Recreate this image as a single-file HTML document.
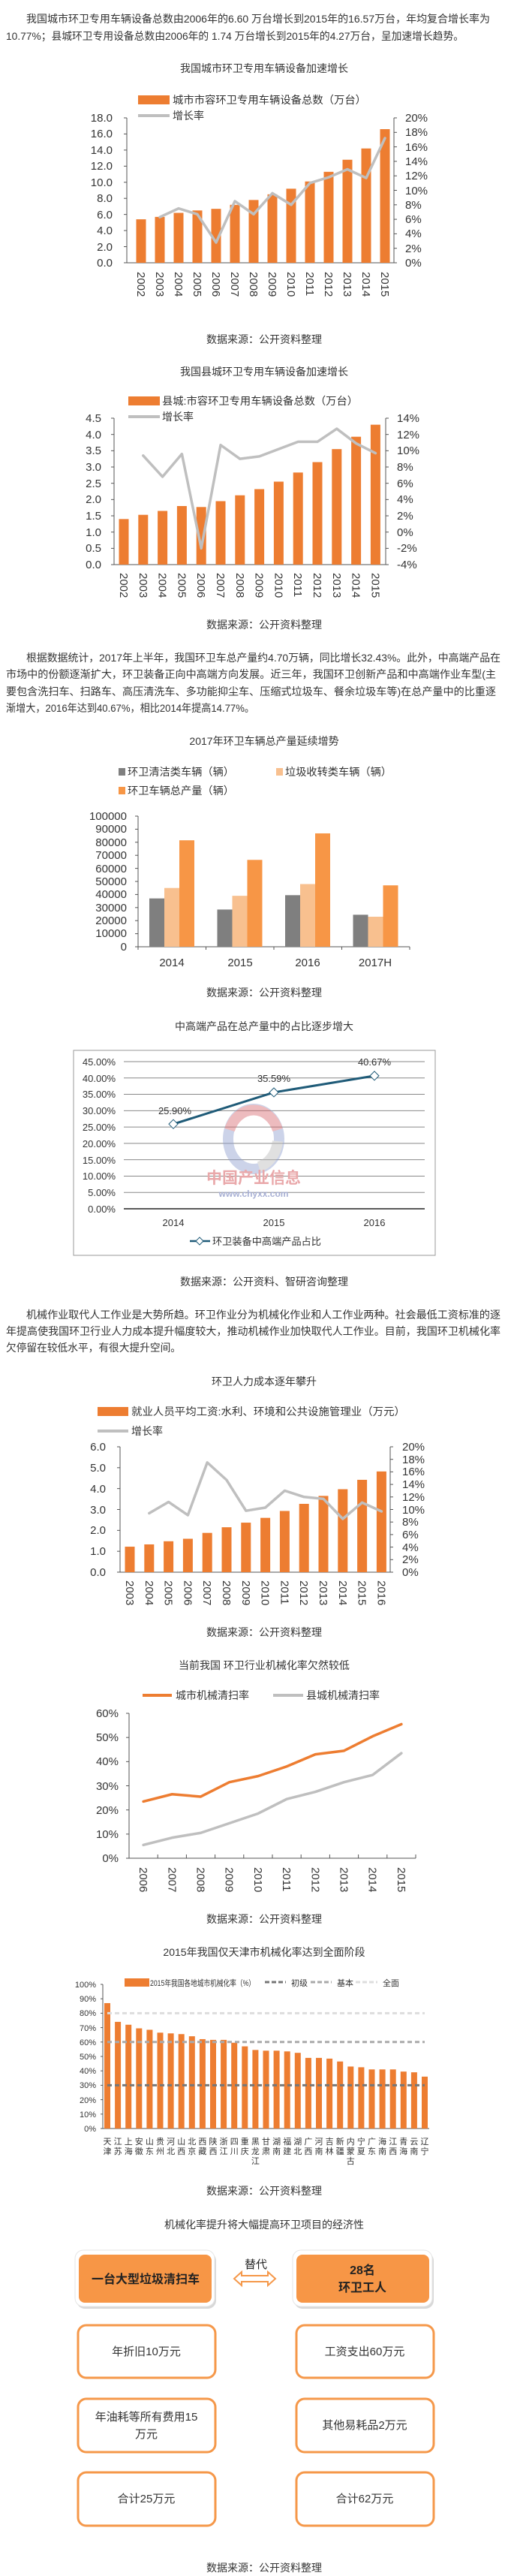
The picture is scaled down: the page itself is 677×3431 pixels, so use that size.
<!DOCTYPE html>
<html><head><meta charset="utf-8"><style>
html,body{margin:0;padding:0;background:#fff}
svg{display:block}
text{font-family:"Liberation Sans","Noto Sans CJK SC",sans-serif;fill:#333}
.p{font-size:14px}
.t{font-size:14px;text-anchor:middle}
.n{font-size:15px;fill:#222}
.e{text-anchor:end}
.m{text-anchor:middle}
</style></head><body>
<svg id="s" width="677" height="3431" viewBox="0 0 677 3431" xmlns="http://www.w3.org/2000/svg">
<!-- paragraph 1 -->
<text class="p" x="35" y="30" textLength="618" lengthAdjust="spacingAndGlyphs">我国城市环卫专用车辆设备总数由2006年的6.60 万台增长到2015年的16.57万台，年均复合增长率为</text>
<text class="p" x="8" y="53" textLength="610" lengthAdjust="spacingAndGlyphs">10.77%；县城环卫专用设备总数由2006年的 1.74 万台增长到2015年的4.27万台，呈加速增长趋势。</text>
<text class="t" x="352" y="96">我国城市环卫专用车辆设备加速增长</text>
<!-- chart1 legend -->
<rect x="184" y="127" width="42" height="12" fill="#ed7d31"/>
<text x="230" y="138" font-size="14" textLength="258" lengthAdjust="spacingAndGlyphs">城市市容环卫专用车辆设备总数（万台）</text>
<line x1="184" y1="154" x2="226" y2="154" stroke="#bfbfbf" stroke-width="4"/>
<text x="230" y="159" font-size="14">增长率</text>
<g class="n e">
<text x="150" y="162">18.0</text><text x="150" y="183">16.0</text><text x="150" y="205">14.0</text><text x="150" y="226">12.0</text><text x="150" y="248">10.0</text><text x="150" y="269">8.0</text><text x="150" y="291">6.0</text><text x="150" y="312">4.0</text><text x="150" y="334">2.0</text><text x="150" y="355">0.0</text>
</g>
<g class="n">
<text x="540" y="162">20%</text><text x="540" y="181">18%</text><text x="540" y="201">16%</text><text x="540" y="220">14%</text><text x="540" y="239">12%</text><text x="540" y="259">10%</text><text x="540" y="278">8%</text><text x="540" y="297">6%</text><text x="540" y="316">4%</text><text x="540" y="336">2%</text><text x="540" y="355">0%</text>
</g>
<g class="n" id="x1">
<text transform="translate(188,362) rotate(90)" dy="5">2002</text>
<text transform="translate(213,362) rotate(90)" dy="5">2003</text>
<text transform="translate(238,362) rotate(90)" dy="5">2004</text>
<text transform="translate(263,362) rotate(90)" dy="5">2005</text>
<text transform="translate(288,362) rotate(90)" dy="5">2006</text>
<text transform="translate(313,362) rotate(90)" dy="5">2007</text>
<text transform="translate(338,362) rotate(90)" dy="5">2008</text>
<text transform="translate(363,362) rotate(90)" dy="5">2009</text>
<text transform="translate(388,362) rotate(90)" dy="5">2010</text>
<text transform="translate(413,362) rotate(90)" dy="5">2011</text>
<text transform="translate(438,362) rotate(90)" dy="5">2012</text>
<text transform="translate(463,362) rotate(90)" dy="5">2013</text>
<text transform="translate(488,362) rotate(90)" dy="5">2014</text>
<text transform="translate(513,362) rotate(90)" dy="5">2015</text>
</g>
<text class="t" x="352" y="457">数据来源：公开资料整理</text>
<text class="t" x="352" y="500">我国县城环卫专用车辆设备加速增长</text>
<!-- chart2 -->
<rect x="171" y="528" width="42" height="12" fill="#ed7d31"/>
<text x="216" y="539" font-size="14" textLength="261" lengthAdjust="spacingAndGlyphs">县城:市容环卫专用车辆设备总数（万台）</text>
<line x1="171" y1="555" x2="213" y2="555" stroke="#bfbfbf" stroke-width="4"/>
<text x="216" y="560" font-size="14">增长率</text>
<g class="n e">
<text x="135" y="562">4.5</text><text x="135" y="584">4.0</text><text x="135" y="605">3.5</text><text x="135" y="627">3.0</text><text x="135" y="649">2.5</text><text x="135" y="670">2.0</text><text x="135" y="692">1.5</text><text x="135" y="714">1.0</text><text x="135" y="735">0.5</text><text x="135" y="757">0.0</text>
</g>
<g class="n">
<text x="529" y="562">14%</text><text x="529" y="584">12%</text><text x="529" y="605">10%</text><text x="529" y="627">8%</text><text x="529" y="649">6%</text><text x="529" y="670">4%</text><text x="529" y="692">2%</text><text x="529" y="714">0%</text><text x="529" y="735">-2%</text><text x="529" y="757">-4%</text>
</g>
<g class="n">
<text transform="translate(165,763) rotate(90)" dy="5">2002</text>
<text transform="translate(190.8,763) rotate(90)" dy="5">2003</text>
<text transform="translate(216.6,763) rotate(90)" dy="5">2004</text>
<text transform="translate(242.4,763) rotate(90)" dy="5">2005</text>
<text transform="translate(268.2,763) rotate(90)" dy="5">2006</text>
<text transform="translate(294,763) rotate(90)" dy="5">2007</text>
<text transform="translate(319.8,763) rotate(90)" dy="5">2008</text>
<text transform="translate(345.6,763) rotate(90)" dy="5">2009</text>
<text transform="translate(371.4,763) rotate(90)" dy="5">2010</text>
<text transform="translate(397.2,763) rotate(90)" dy="5">2011</text>
<text transform="translate(423,763) rotate(90)" dy="5">2012</text>
<text transform="translate(448.8,763) rotate(90)" dy="5">2013</text>
<text transform="translate(474.6,763) rotate(90)" dy="5">2014</text>
<text transform="translate(500.4,763) rotate(90)" dy="5">2015</text>
</g>
<text class="t" x="352" y="837">数据来源：公开资料整理</text>
<!-- paragraph 2 -->
<text class="p" x="35" y="881" textLength="632" lengthAdjust="spacingAndGlyphs">根据数据统计，2017年上半年，我国环卫车总产量约4.70万辆，同比增长32.43%。此外，中高端产品在</text>
<text class="p" x="8" y="903" textLength="653" lengthAdjust="spacingAndGlyphs">市场中的份额逐渐扩大，环卫装备正向中高端方向发展。近三年，我国环卫创新产品和中高端作业车型(主</text>
<text class="p" x="8" y="926" textLength="653" lengthAdjust="spacingAndGlyphs">要包含洗扫车、扫路车、高压清洗车、多功能抑尘车、压缩式垃圾车、餐余垃圾车等)在总产量中的比重逐</text>
<text class="p" x="8" y="948" textLength="331" lengthAdjust="spacingAndGlyphs">渐增大，2016年达到40.67%，相比2014年提高14.77%。</text>
<text class="t" x="352" y="992">2017年环卫车辆总产量延续增势</text>
<!-- chart3 legend -->
<rect x="158" y="1023" width="9" height="10" fill="#7f7f7f"/>
<text x="170" y="1033" font-size="14" textLength="142" lengthAdjust="spacingAndGlyphs">环卫清洁类车辆（辆）</text>
<rect x="368" y="1023" width="9" height="10" fill="#f8c08f"/>
<text x="380" y="1033" font-size="14" textLength="142" lengthAdjust="spacingAndGlyphs">垃圾收转类车辆（辆）</text>
<rect x="158" y="1048" width="9" height="10" fill="#f79646"/>
<text x="170" y="1058" font-size="14" textLength="142" lengthAdjust="spacingAndGlyphs">环卫车辆总产量（辆）</text>
<g class="n e">
<text x="169" y="1092">100000</text><text x="169" y="1109">90000</text><text x="169" y="1127">80000</text><text x="169" y="1144">70000</text><text x="169" y="1162">60000</text><text x="169" y="1179">50000</text><text x="169" y="1196">40000</text><text x="169" y="1214">30000</text><text x="169" y="1231">20000</text><text x="169" y="1248">10000</text><text x="169" y="1266">0</text>
</g>
<g class="n m">
<text x="229" y="1287">2014</text><text x="320" y="1287">2015</text><text x="410" y="1287">2016</text><text x="500" y="1287">2017H</text>
</g>
<text class="t" x="352" y="1327">数据来源：公开资料整理</text>
<text class="t" x="352" y="1372">中高端产品在总产量中的占比逐步增大</text>
<!-- chart4 -->
<rect x="98" y="1399" width="482" height="273" fill="none" stroke="#999" stroke-width="1"/>
<g opacity="0.45">
<ellipse cx="338" cy="1517" rx="34" ry="40" fill="none" stroke="#8fa0d0" stroke-width="14"/>
<path d="M306,1505 A34,40 0 0 1 370,1505" fill="none" stroke="#d86a70" stroke-width="14"/>
<path d="M345,1554 A34,40 0 0 0 370,1520" fill="none" stroke="#bbb" stroke-width="14"/>
</g>
<text x="338" y="1576" font-size="21" font-weight="bold" text-anchor="middle" style="fill:#e9a8aa">中国产业信息</text>
<text x="338" y="1594" font-size="12" font-weight="bold" text-anchor="middle" style="fill:#a8b0d4">www.chyxx.com</text>
<g font-size="13" class="e">
<text x="154" y="1419">45.00%</text><text x="154" y="1441">40.00%</text><text x="154" y="1462">35.00%</text><text x="154" y="1484">30.00%</text><text x="154" y="1506">25.00%</text><text x="154" y="1528">20.00%</text><text x="154" y="1550">15.00%</text><text x="154" y="1571">10.00%</text><text x="154" y="1593">5.00%</text><text x="154" y="1615">0.00%</text>
</g>
<g font-size="13" class="m">
<text x="233" y="1484">25.90%</text><text x="365" y="1441">35.59%</text><text x="499" y="1419">40.67%</text>
<text x="231" y="1633">2014</text><text x="365" y="1633">2015</text><text x="499" y="1633">2016</text>
</g>
<line x1="253" y1="1653" x2="280" y2="1653" stroke="#1f5b78" stroke-width="2.5"/>
<path d="M266,1648 L271,1653 L266,1658 L261,1653Z" fill="#fff" stroke="#1f5b78"/>
<text x="283" y="1658" font-size="13" textLength="145" lengthAdjust="spacingAndGlyphs">环卫装备中高端产品占比</text>
<text class="t" x="352" y="1712">数据来源：公开资料、智研咨询整理</text>
<!-- paragraph 3 -->
<text class="p" x="35" y="1756" textLength="632" lengthAdjust="spacingAndGlyphs">机械作业取代人工作业是大势所趋。环卫作业分为机械化作业和人工作业两种。社会最低工资标准的逐</text>
<text class="p" x="8" y="1778" textLength="659" lengthAdjust="spacingAndGlyphs">年提高使我国环卫行业人力成本提升幅度较大，推动机械作业加快取代人工作业。目前，我国环卫机械化率</text>
<text class="p" x="8" y="1800" textLength="233" lengthAdjust="spacingAndGlyphs">欠停留在较低水平，有很大提升空间。</text>
<text class="t" x="352" y="1845">环卫人力成本逐年攀升</text>
<!-- chart5 -->
<rect x="130" y="1874" width="41" height="12" fill="#ed7d31"/>
<text x="175" y="1885" font-size="14" textLength="365" lengthAdjust="spacingAndGlyphs">就业人员平均工资:水利、环境和公共设施管理业（万元）</text>
<line x1="130" y1="1906" x2="171" y2="1906" stroke="#bfbfbf" stroke-width="4"/>
<text x="175" y="1911" font-size="14">增长率</text>
<g class="n e">
<text x="141" y="1932">6.0</text><text x="141" y="1960">5.0</text><text x="141" y="1988">4.0</text><text x="141" y="2016">3.0</text><text x="141" y="2043">2.0</text><text x="141" y="2071">1.0</text><text x="141" y="2099">0.0</text>
</g>
<g class="n">
<text x="536" y="1932">20%</text><text x="536" y="1949">18%</text><text x="536" y="1965">16%</text><text x="536" y="1982">14%</text><text x="536" y="1999">12%</text><text x="536" y="2016">10%</text><text x="536" y="2032">8%</text><text x="536" y="2049">6%</text><text x="536" y="2066">4%</text><text x="536" y="2082">2%</text><text x="536" y="2099">0%</text>
</g>
<g class="n">
<text transform="translate(173,2105) rotate(90)" dy="5">2003</text>
<text transform="translate(198.8,2105) rotate(90)" dy="5">2004</text>
<text transform="translate(224.6,2105) rotate(90)" dy="5">2005</text>
<text transform="translate(250.4,2105) rotate(90)" dy="5">2006</text>
<text transform="translate(276.2,2105) rotate(90)" dy="5">2007</text>
<text transform="translate(302,2105) rotate(90)" dy="5">2008</text>
<text transform="translate(327.8,2105) rotate(90)" dy="5">2009</text>
<text transform="translate(353.6,2105) rotate(90)" dy="5">2010</text>
<text transform="translate(379.4,2105) rotate(90)" dy="5">2011</text>
<text transform="translate(405.2,2105) rotate(90)" dy="5">2012</text>
<text transform="translate(431,2105) rotate(90)" dy="5">2013</text>
<text transform="translate(456.8,2105) rotate(90)" dy="5">2014</text>
<text transform="translate(482.6,2105) rotate(90)" dy="5">2015</text>
<text transform="translate(508.4,2105) rotate(90)" dy="5">2016</text>
</g>
<text class="t" x="352" y="2179">数据来源：公开资料整理</text>
<text class="t" x="352" y="2223">当前我国 环卫行业机械化率欠然较低</text>
<!-- chart6 -->
<line x1="190" y1="2258" x2="229" y2="2258" stroke="#ed7d31" stroke-width="4"/>
<text x="234" y="2263" font-size="14">城市机械清扫率</text>
<line x1="364" y1="2258" x2="404" y2="2258" stroke="#bfbfbf" stroke-width="4"/>
<text x="408" y="2263" font-size="14">县城机械清扫率</text>
<g class="n e">
<text x="158" y="2287">60%</text><text x="158" y="2319">50%</text><text x="158" y="2351">40%</text><text x="158" y="2384">30%</text><text x="158" y="2416">20%</text><text x="158" y="2448">10%</text><text x="158" y="2480">0%</text>
</g>
<g class="n">
<text transform="translate(191.1,2487) rotate(90)" dy="5">2006</text>
<text transform="translate(229.3,2487) rotate(90)" dy="5">2007</text>
<text transform="translate(267.5,2487) rotate(90)" dy="5">2008</text>
<text transform="translate(305.7,2487) rotate(90)" dy="5">2009</text>
<text transform="translate(343.9,2487) rotate(90)" dy="5">2010</text>
<text transform="translate(382.1,2487) rotate(90)" dy="5">2011</text>
<text transform="translate(420.3,2487) rotate(90)" dy="5">2012</text>
<text transform="translate(458.5,2487) rotate(90)" dy="5">2013</text>
<text transform="translate(496.7,2487) rotate(90)" dy="5">2014</text>
<text transform="translate(534.9,2487) rotate(90)" dy="5">2015</text>
</g>
<text class="t" x="352" y="2561">数据来源：公开资料整理</text>
<text class="t" x="352" y="2605">2015年我国仅天津市机械化率达到全面阶段</text>
<!-- chart7 legend -->
<rect x="166" y="2635" width="33" height="11" fill="#ed7d31"/>
<text x="200" y="2645" font-size="11" textLength="140" lengthAdjust="spacingAndGlyphs">2015年我国各地城市机械化率（%）</text>
<line x1="353" y1="2640" x2="381" y2="2640" stroke="#777" stroke-width="3" stroke-dasharray="6,3"/>
<text x="388" y="2645" font-size="11">初级</text>
<line x1="414" y1="2640" x2="442" y2="2640" stroke="#aaa" stroke-width="3" stroke-dasharray="6,3"/>
<text x="449" y="2645" font-size="11">基本</text>
<line x1="474" y1="2640" x2="503" y2="2640" stroke="#ddd" stroke-width="3" stroke-dasharray="6,3"/>
<text x="510" y="2645" font-size="11">全面</text>
<g font-size="11" class="e">
<text x="128" y="2647">100%</text><text x="128" y="2666">90%</text><text x="128" y="2685">80%</text><text x="128" y="2705">70%</text><text x="128" y="2724">60%</text><text x="128" y="2743">50%</text><text x="128" y="2762">40%</text><text x="128" y="2781">30%</text><text x="128" y="2801">20%</text><text x="128" y="2820">10%</text><text x="128" y="2839">0%</text>
</g>
<g font-size="11" class="m" id="prov"></g>
<text class="t" x="352" y="2923">数据来源：公开资料整理</text>
<text class="t" x="352" y="2968">机械化率提升将大幅提高环卫项目的经济性</text>
<!-- chart8 -->
<rect x="102" y="3000" width="186" height="75" rx="11" fill="#d8d8d8"/>
<rect x="100" y="2997" width="186" height="75" rx="11" fill="#fff" stroke="#e6e6e6"/>
<rect x="105" y="3003" width="177" height="64" rx="8" fill="#f79646"/>
<rect x="392" y="3000" width="186" height="75" rx="11" fill="#d8d8d8"/>
<rect x="390" y="2997" width="186" height="75" rx="11" fill="#fff" stroke="#e6e6e6"/>
<rect x="395" y="3003" width="177" height="64" rx="8" fill="#f79646"/>
<text x="194" y="3041" font-size="16" font-weight="bold" text-anchor="middle" style="fill:#222">一台大型垃圾清扫车</text>
<text x="483" y="3029" font-size="16" font-weight="bold" text-anchor="middle" style="fill:#222">28名</text>
<text x="483" y="3052" font-size="16" font-weight="bold" text-anchor="middle" style="fill:#222">环卫工人</text>
<text x="341" y="3021" font-size="15" text-anchor="middle" style="fill:#222">替代</text>
<polygon points="312,3035 322,3026 322,3031 357,3031 357,3026 367,3035 357,3044 357,3039 322,3039 322,3044" fill="#fff" stroke="#f5984a" stroke-width="2"/>
<g fill="#fff" stroke="#f5984a" stroke-width="3">
<rect x="104" y="3097" width="183" height="70" rx="11"/><rect x="395" y="3097" width="183" height="70" rx="11"/>
<rect x="104" y="3195" width="183" height="71" rx="11"/><rect x="395" y="3195" width="183" height="71" rx="11"/>
<rect x="104" y="3293" width="183" height="71" rx="11"/><rect x="395" y="3293" width="183" height="71" rx="11"/>
</g>
<g font-size="15" text-anchor="middle">
<text x="195" y="3137">年折旧10万元</text>
<text x="486" y="3137">工资支出60万元</text>
<text x="195" y="3224">年油耗等所有费用15</text>
<text x="195" y="3247">万元</text>
<text x="486" y="3235">其他易耗品2万元</text>
<text x="195" y="3333">合计25万元</text>
<text x="486" y="3333">合计62万元</text>
</g>
<text class="t" x="352" y="3425">数据来源：公开资料整理</text>
</svg>
<script>
(function(){
var S=document.getElementById('s'),NS='http://www.w3.org/2000/svg';
function el(t,a,p){var e=document.createElementNS(NS,t);for(var k in a)e.setAttribute(k,a[k]);(p||S).insertBefore(e,(p||S).firstChild);return e}
function L(x1,y1,x2,y2,c,w,d){var a={x1:x1,y1:y1,x2:x2,y2:y2,stroke:c||'#555','stroke-width':w||1};if(d)a['stroke-dasharray']=d;el('line',a)}
function bars(c0,dx,w,v,y0,k,f){v.forEach(function(x,i){el('rect',{x:c0+dx*i-w/2,y:y0-x*k,width:w,height:x*k,fill:f})})}
function pl(pts,c,w){el('polyline',{points:pts.map(function(p){return p.join(',')}).join(' '),fill:'none',stroke:c,'stroke-width':w,'stroke-linejoin':'round','stroke-linecap':'round'})}
function grow(c0,dx,g,f){var p=[];g.forEach(function(v,i){if(v!==null)p.push([c0+dx*i,f(v)])});return p}
// chart1
var b1=[5.4,5.7,6.2,6.5,6.7,7.2,7.8,8.5,9.2,10.1,11.3,12.8,14.2,16.6];
var g1=[null,6.3,7.5,6.7,2.8,8.5,6.7,9.6,8,11,11.8,12.9,11.7,17.2];
pl(grow(188,25,g1,function(v){return 350-v*193/20}),'#bfbfbf',3.5);
bars(188,25,13,b1,350,193/18,'#ed7d31');
L(169,157,169,350);L(169,350,525,350);L(525,157,525,350);
for(var i=0;i<10;i++)L(165,157+i*21.44,169,157+i*21.44);
for(i=0;i<11;i++)L(525,157+i*19.3,529,157+i*19.3);
// chart2
var b2=[1.4,1.53,1.65,1.8,1.77,1.95,2.13,2.32,2.55,2.83,3.15,3.55,3.93,4.3];
var g2=[null,9.4,6.8,9.6,-2,10.7,9,9.3,10.2,11.1,11.1,12.7,10.9,9.7];
pl(grow(165,25.8,g2,function(v){return 752-(v+4)*195/18}),'#bfbfbf',3.5);
bars(165,25.8,13,b2,752,195/4.5,'#ed7d31');
L(152,557,152,752);L(152,752,514,752);L(514,557,514,752);
for(i=0;i<10;i++){L(148,557+i*21.67,152,557+i*21.67);L(514,557+i*21.67,518,557+i*21.67);}
// chart3
var c3=[[37000,45000,81500],[28500,39000,66500],[39500,48000,86800],[24500,23000,47000]],cl=['#7f7f7f','#f8c08f','#f79646'];
c3.forEach(function(g,j){g.forEach(function(v,k){var h=v*17.4/10000;el('rect',{x:184+90.5*j+15+20*k,y:1261-h,width:20,height:h,fill:cl[k]})})});
L(184,1087,184,1261);L(184,1261,546,1261);
for(i=0;i<11;i++)L(180,1087+i*17.4,184,1087+i*17.4);
for(i=0;i<5;i++)L(184+90.5*i,1261,184+90.5*i,1265);
// chart4
var pts=[[231,1610-25.9*4.356],[365,1610-35.59*4.356],[499,1610-40.67*4.356]];
var dg=document.createElementNS(NS,'g');S.appendChild(dg);
function d(t,a){var e=document.createElementNS(NS,t);for(var k in a)e.setAttribute(k,a[k]);dg.appendChild(e)}
d('polyline',{points:pts.map(function(p){return p.join(',')}).join(' '),fill:'none',stroke:'#1f5b78','stroke-width':3});
pts.forEach(function(p){d('path',{d:'M'+p[0]+','+(p[1]-6)+' l6,6 l-6,6 l-6,-6Z',fill:'#fff',stroke:'#1f5b78'})});
for(i=0;i<10;i++)L(165,1414+i*21.78,566,1414+i*21.78,i==9?'#222':'#888',i==9?1.5:1);
// chart5
var b5=[1.22,1.33,1.48,1.6,1.88,2.15,2.37,2.6,2.93,3.27,3.65,3.97,4.42,4.82];
var g5=[null,9.4,11.2,9.1,17.5,14.7,9.8,10.3,13,12,11.7,8.5,11.1,9.7];
pl(grow(173,25.8,g5,function(v){return 2094-v*167/20}),'#bfbfbf',3.5);
bars(173,25.8,13,b5,2094,167/6,'#ed7d31');
L(160,1927,160,2094);L(160,2094,520,2094);L(520,1927,520,2094);
for(i=0;i<7;i++)L(156,1927+i*27.83,160,1927+i*27.83);
for(i=0;i<11;i++)L(520,1927+i*16.7,524,1927+i*16.7);
// chart6
var o6=[23.5,26.5,25.5,31.5,34,38,43,44.5,50.5,55.5],g6=[5.5,8.5,10.5,14.5,18.5,24.5,27.5,31.5,34.5,43.5];
pl(grow(191.1,38.2,g6,function(v){return 2475-v*3.217}),'#bfbfbf',3.5);
pl(grow(191.1,38.2,o6,function(v){return 2475-v*3.217}),'#ed7d31',3.5);
L(172,2282,172,2475);L(172,2475,554,2475);
for(i=0;i<7;i++)L(168,2282+i*32.17,172,2282+i*32.17);
for(i=0;i<=10;i++)L(172+38.2*i,2475,172+38.2*i,2470);
// chart7
var v7=[87,74,72,69.5,68.5,66.5,66,65.5,64,62,61.5,61.5,59.5,57,54.5,54,54,53.5,52.5,49,49,48.5,46.5,43,42.5,41,41,41,39.5,39,36];
L(143,2835-30*1.92,566,2835-30*1.92,'#777',3,'6,4');
L(143,2835-60*1.92,566,2835-60*1.92,'#aaa',3,'6,4');
L(143,2835-80*1.92,566,2835-80*1.92,'#ddd',3,'6,4');
bars(143,14.1,8,v7,2835,1.92,'#ed7d31');
L(137,2643,137,2835);L(137,2835,572,2835);
for(i=0;i<11;i++)L(134,2643+i*19.2,137,2643+i*19.2);
})();
</script>
<svg width="0" height="0" style="position:absolute"></svg>
<div style="display:none"></div>
<svg style="position:absolute;left:0;top:0" width="677" height="3431">
<g font-size="11" text-anchor="middle" style="font-family:'Liberation Sans','Noto Sans CJK SC',sans-serif;fill:#444">
<text x="143" y="2856" fill="#444">天</text><text x="143" y="2869" fill="#444">津</text>
<text x="157.1" y="2856" fill="#444">江</text><text x="157.1" y="2869" fill="#444">苏</text>
<text x="171.2" y="2856" fill="#444">上</text><text x="171.2" y="2869" fill="#444">海</text>
<text x="185.3" y="2856" fill="#444">安</text><text x="185.3" y="2869" fill="#444">徽</text>
<text x="199.4" y="2856" fill="#444">山</text><text x="199.4" y="2869" fill="#444">东</text>
<text x="213.5" y="2856" fill="#444">贵</text><text x="213.5" y="2869" fill="#444">州</text>
<text x="227.6" y="2856" fill="#444">河</text><text x="227.6" y="2869" fill="#444">北</text>
<text x="241.7" y="2856" fill="#444">山</text><text x="241.7" y="2869" fill="#444">西</text>
<text x="255.8" y="2856" fill="#444">北</text><text x="255.8" y="2869" fill="#444">京</text>
<text x="269.9" y="2856" fill="#444">西</text><text x="269.9" y="2869" fill="#444">藏</text>
<text x="284" y="2856" fill="#444">陕</text><text x="284" y="2869" fill="#444">西</text>
<text x="298.1" y="2856" fill="#444">浙</text><text x="298.1" y="2869" fill="#444">江</text>
<text x="312.2" y="2856" fill="#444">四</text><text x="312.2" y="2869" fill="#444">川</text>
<text x="326.3" y="2856" fill="#444">重</text><text x="326.3" y="2869" fill="#444">庆</text>
<text x="340.4" y="2856" fill="#444">黑</text><text x="340.4" y="2869" fill="#444">龙</text><text x="340.4" y="2882" fill="#444">江</text>
<text x="354.5" y="2856" fill="#444">甘</text><text x="354.5" y="2869" fill="#444">肃</text>
<text x="368.6" y="2856" fill="#444">湖</text><text x="368.6" y="2869" fill="#444">南</text>
<text x="382.7" y="2856" fill="#444">福</text><text x="382.7" y="2869" fill="#444">建</text>
<text x="396.8" y="2856" fill="#444">湖</text><text x="396.8" y="2869" fill="#444">北</text>
<text x="410.9" y="2856" fill="#444">广</text><text x="410.9" y="2869" fill="#444">西</text>
<text x="425" y="2856" fill="#444">河</text><text x="425" y="2869" fill="#444">南</text>
<text x="439.1" y="2856" fill="#444">吉</text><text x="439.1" y="2869" fill="#444">林</text>
<text x="453.2" y="2856" fill="#444">新</text><text x="453.2" y="2869" fill="#444">疆</text>
<text x="467.3" y="2856" fill="#444">内</text><text x="467.3" y="2869" fill="#444">蒙</text><text x="467.3" y="2882" fill="#444">古</text>
<text x="481.4" y="2856" fill="#444">宁</text><text x="481.4" y="2869" fill="#444">夏</text>
<text x="495.5" y="2856" fill="#444">广</text><text x="495.5" y="2869" fill="#444">东</text>
<text x="509.6" y="2856" fill="#444">海</text><text x="509.6" y="2869" fill="#444">南</text>
<text x="523.7" y="2856" fill="#444">江</text><text x="523.7" y="2869" fill="#444">西</text>
<text x="537.8" y="2856" fill="#444">青</text><text x="537.8" y="2869" fill="#444">海</text>
<text x="551.9" y="2856" fill="#444">云</text><text x="551.9" y="2869" fill="#444">南</text>
<text x="566" y="2856" fill="#444">辽</text><text x="566" y="2869" fill="#444">宁</text>
</g>
</svg>
</body></html>
